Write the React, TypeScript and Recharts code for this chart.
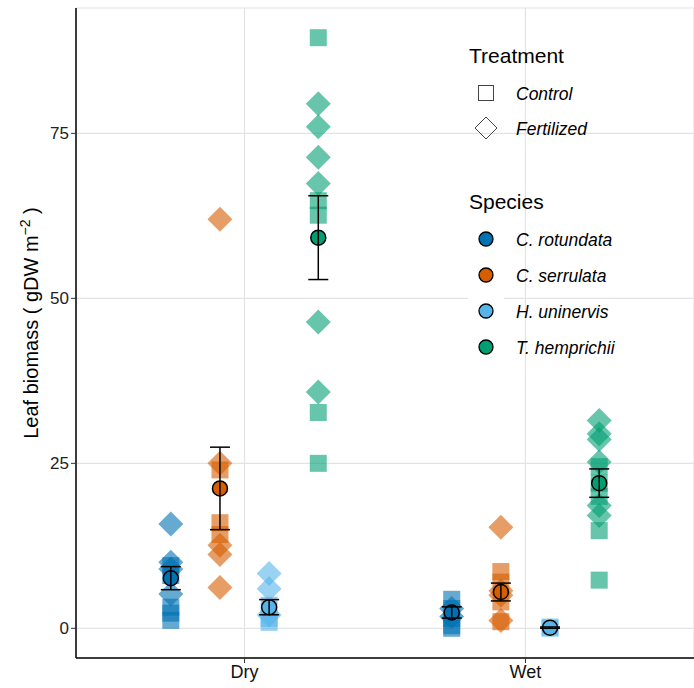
import React from 'react';
import { ScatterChart, Scatter, XAxis, YAxis, CartesianGrid, ErrorBar } from 'recharts';

const SITES = ['Dry', 'Wet'];
const SPECIES = ['C. rotundata', 'C. serrulata', 'H. uninervis', 'T. hemprichii'];
const COLORS = ['#0072B2', '#D55E00', '#56B4E9', '#009E73'];
const OFFSETS = [-0.2625, -0.0875, 0.0875, 0.2625];

// raw leaf biomass per species
const dryControl = [[9.5, 8.0, 3.2, 2.3, 1.2], [24.0, 16.0, 14.2], [3.5, 1.5, 0.9], [89.5, 64.8, 62.6, 32.7, 25.0]];
const dryFertilized = [[15.8, 10.0, 9.0, 5.2], [62.0, 25.0, 12.6, 11.2, 6.2], [8.3, 6.0, 2.0], [79.5, 76.0, 71.4, 67.4, 46.4, 35.8]];
const wetControl = [[4.4, 3.0, 1.5, 0.4, 0.0], [8.6, 7.0, 4.0, 1.0], [0.2, 0.0], [24.5, 22.0, 20.0, 14.8, 7.3]];
const wetFertilized = [[3.0, 1.8], [15.3, 5.7, 5.0, 1.2], [], [31.5, 29.5, 28.6, 25.2, 18.6, 17.1]];

const dryMean = [7.6, 21.2, 3.2, 59.2];
const drySE = [1.75, 6.25, 1.15, 6.35];
const wetMean = [2.4, 5.5, 0.1, 22.0];
const wetSE = [0.85, 1.35, 0.1, 2.15];

const yTicks = [0, 25, 50, 75];

const FONT = '"Liberation Sans", Arial, sans-serif';

const pts = (site: number, sp: number, vals: number[]) => vals.map((v) => ({ x: site + 1 + OFFSETS[sp], y: v }));

const squareShape = (color: string) => (p: any) => (
  <rect x={p.cx - 8.5} y={p.cy - 8.5} width={17} height={17} fill={color} fillOpacity={0.6} />
);
const diamondShape = (color: string) => (p: any) => (
  <polygon
    points={`${p.cx},${p.cy - 12.5} ${p.cx + 12.5},${p.cy} ${p.cx},${p.cy + 12.5} ${p.cx - 12.5},${p.cy}`}
    fill={color}
    fillOpacity={0.6}
  />
);
const circleShape = (color: string) => (p: any) => (
  <circle cx={p.cx} cy={p.cy} r={7.5} fill={color} stroke="#000" strokeWidth={1.5} />
);

const Legend = () => (
  <svg width={694} height={688} style={{ position: 'absolute', left: 0, top: 0, pointerEvents: 'none' }} fontFamily={FONT}>
    <text transform="translate(38,323) rotate(-90)" textAnchor="middle" fontSize={20} fill="#000">
      Leaf biomass  ( gDW m<tspan dy={-8} fontSize={14}>−2</tspan>
      <tspan dy={8}> )</tspan>
    </text>
    <text x={469} y={63} fontSize={21} fill="#000">Treatment</text>
    <rect x={478.5} y={85.5} width={15} height={15} fill="none" stroke="#444" strokeWidth={1} />
    <text x={516} y={99.5} fontSize={17.5} fontStyle="italic" fill="#000">Control</text>
    <polygon points="486,117 497,128 486,139 475,128" fill="none" stroke="#444" strokeWidth={1} />
    <text x={516} y={134.5} fontSize={17.5} fontStyle="italic" fill="#000">Fertilized</text>
    <text x={469} y={209} fontSize={21} fill="#000">Species</text>
    {SPECIES.map((s, i) => (
      <g key={s}>
        <rect x={468} y={221 + i * 36} width={36} height={36} fill="#fff" />
        <circle cx={486} cy={239 + i * 36} r={7} fill={COLORS[i]} stroke="#000" strokeWidth={1.3} />
        <text x={516} y={245.5 + i * 36} fontSize={17.5} fontStyle="italic" fill="#000">{s}</text>
      </g>
    ))}
  </svg>
);

export default function App() {
  const groups = [
    { ctrl: dryControl, fert: dryFertilized, mean: dryMean, se: drySE },
    { ctrl: wetControl, fert: wetFertilized, mean: wetMean, se: wetSE },
  ];
  const meanData = (sp: number) =>
    groups.map((g, site) => ({ x: site + 1 + OFFSETS[sp], y: g.mean[sp], se: g.se[sp] }));

  return (
    <div style={{ position: 'absolute', left: 0, top: 0, width: 694, height: 688, background: '#fff' }}>
      <ScatterChart width={694} height={688} margin={{ top: 8, right: 0, bottom: 0, left: 0 }}>
        <CartesianGrid stroke="#E3E3E3" strokeWidth={1.2} />
        <XAxis
          type="number"
          dataKey="x"
          domain={[0.4, 2.6]}
          ticks={[1, 2]}
          tickFormatter={(v: number) => SITES[v - 1]}
          height={30}
          allowDataOverflow
          axisLine={{ stroke: '#000', strokeWidth: 1.5 }}
          tickLine={{ stroke: '#333' }}
          tickSize={5}
          tick={{ fill: '#111', fontSize: 18, fontFamily: FONT }}
        />
        <YAxis
          type="number"
          dataKey="y"
          domain={[-4.5, 94]}
          ticks={yTicks}
          width={76}
          allowDataOverflow
          axisLine={{ stroke: '#000', strokeWidth: 1.5 }}
          tickLine={{ stroke: '#333' }}
          tickSize={5}
          tick={{ fill: '#222', fontSize: 17, fontFamily: FONT }}
        />
        {SPECIES.map((s, sp) =>
          groups.map((g, site) => (
            <Scatter
              key={`c-${s}-${site}`}
              data={pts(site, sp, g.ctrl[sp])}
              shape={squareShape(COLORS[sp])}
              isAnimationActive={false}
            />
          ))
        )}
        {SPECIES.map((s, sp) =>
          groups.map((g, site) => (
            <Scatter
              key={`f-${s}-${site}`}
              data={pts(site, sp, g.fert[sp])}
              shape={diamondShape(COLORS[sp])}
              isAnimationActive={false}
            />
          ))
        )}
        {SPECIES.map((s, sp) => (
          <Scatter key={`m-${s}`} data={meanData(sp)} shape={circleShape(COLORS[sp])} isAnimationActive={false} />
        ))}
        {SPECIES.map((s, sp) => (
          <Scatter key={`e-${s}`} data={meanData(sp)} shape={() => <g />} isAnimationActive={false}>
            <ErrorBar dataKey="se" direction="y" width={10} stroke="#000" strokeWidth={1.5} zIndex={900} />
          </Scatter>
        ))}
      </ScatterChart>
      <Legend />
    </div>
  );
}
